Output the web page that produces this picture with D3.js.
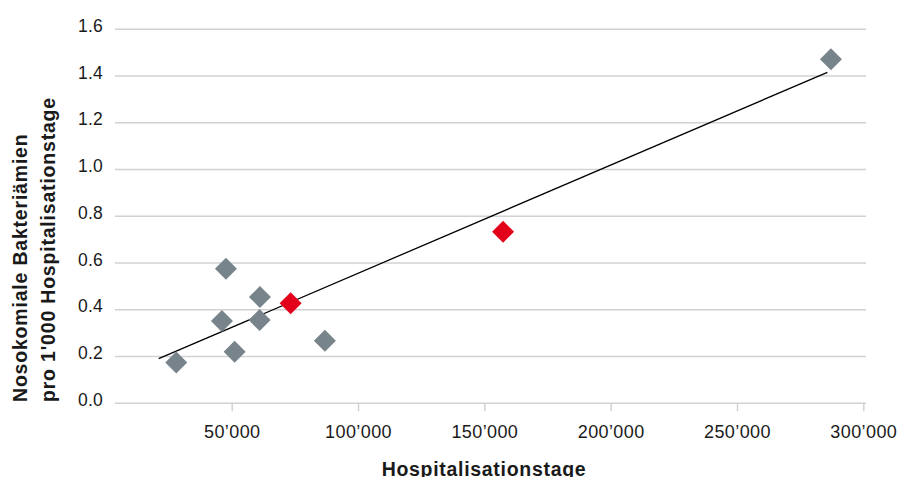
<!DOCTYPE html>
<html>
<head>
<meta charset="utf-8">
<script src="https://cdn.jsdelivr.net/npm/d3@7"></script>
<style>
  html, body { margin: 0; padding: 0; background: #ffffff; }
  svg { display: block; }
  text { font-family: "Liberation Sans", Arial, Helvetica, sans-serif; fill: #1a1a1a; }
</style>
</head>
<body>
<svg id="chart" width="902" height="477"></svg>
<script>
// ---- data ----
const hospDays = [28050, 47710, 46130, 51160, 61170, 61050, 73310, 86880, 157420, 287190];
const bacteremiaRate = [0.175, 0.576, 0.352, 0.221, 0.455, 0.356, 0.428, 0.268, 0.734, 1.472];
const highlighted = [false, false, false, false, false, false, true, false, true, false];
const trendX = [21090, 285770];
const trendY = [0.191, 1.416];
const xTickValues = [50000, 100000, 150000, 200000, 250000, 300000];
const xTickLabels = ["50’000", "100’000", "150’000", "200’000", "250’000", "300’000"];
const yTickValues = [0, 0.2, 0.4, 0.6, 0.8, 1.0, 1.2, 1.4, 1.6];
const yTickLabels = ["0.0", "0.2", "0.4", "0.6", "0.8", "1.0", "1.2", "1.4", "1.6"];
const xTitle = "Hospitalisationstage";
const yTitleLines = ["Nosokomiale Bakteriämien", "pro 1'000 Hospitalisationstage"];

// ---- layout ----
const svg = d3.select("#chart");
const gridLeft = 115, gridRight = 866;
const x = d3.scaleLinear().domain([0, 300000]).range([105.4, 863.3]);
const y = d3.scaleLinear().domain([0, 1.6]).range([403.3, 29.3]);

const gray = "#78848b", red = "#e2001a", gridColor = "#d2d2d2";

// gridlines
svg.append("g").selectAll("line")
  .data(yTickValues)
  .join("line")
  .attr("x1", gridLeft).attr("x2", gridRight)
  .attr("y1", d => y(d)).attr("y2", d => y(d))
  .attr("stroke", gridColor).attr("stroke-width", 1.5);

// y tick labels
svg.append("g").selectAll("text")
  .data(yTickValues)
  .join("text")
  .attr("x", 103)
  .attr("y", d => y(d) + 2.5)
  .attr("text-anchor", "end")
  .attr("font-size", 17.5)
  .attr("letter-spacing", 0.2)
  .text((d, i) => yTickLabels[i]);

// x axis ticks
const xAxis = d3.axisBottom(x)
  .tickValues(xTickValues)
  .tickFormat((d, i) => xTickLabels[i])
  .tickSize(8)
  .tickSizeOuter(0);
const gx = svg.append("g").attr("transform", `translate(0,${y(0)})`).call(xAxis);
gx.select(".domain").remove();
gx.selectAll(".tick line").attr("stroke", gridColor).attr("stroke-width", 1.5);
gx.selectAll(".tick text")
  .attr("y", 34.7)
  .attr("dy", 0)
  .attr("font-size", 18)
  .attr("letter-spacing", 0.4)
  .attr("font-family", "Liberation Sans, Arial, sans-serif")
  .attr("fill", "#1a1a1a");

// trend line
svg.append("line")
  .attr("x1", x(trendX[0])).attr("y1", y(trendY[0]))
  .attr("x2", x(trendX[1])).attr("y2", y(trendY[1]))
  .attr("stroke", "#000").attr("stroke-width", 1.3);

// points (diamonds)
const sym = d3.symbol().type(d3.symbolSquare).size(242);
svg.append("g").selectAll("path")
  .data(hospDays.map((d, i) => ({ x: d, y: bacteremiaRate[i], h: highlighted[i] })))
  .join("path")
  .attr("d", sym)
  .attr("transform", d => `translate(${x(d.x)},${y(d.y)}) rotate(45)`)
  .attr("fill", d => d.h ? red : gray);

// x title
svg.append("text")
  .attr("x", 484).attr("y", 475.5)
  .attr("text-anchor", "middle")
  .attr("font-size", 19.5)
  .attr("font-weight", "bold")
  .attr("letter-spacing", 0.7)
  .text(xTitle);

// y title
const yt = svg.append("text")
  .attr("transform", "translate(0,402) rotate(-90)")
  .attr("text-anchor", "start")
  .attr("font-size", 19.5)
  .attr("font-weight", "bold")
  .attr("letter-spacing", 0.8);
yt.append("tspan").attr("x", 0).attr("y", 26.7).text(yTitleLines[0]);
yt.append("tspan").attr("x", 0).attr("y", 55).text(yTitleLines[1]);
</script>
</body>
</html>
